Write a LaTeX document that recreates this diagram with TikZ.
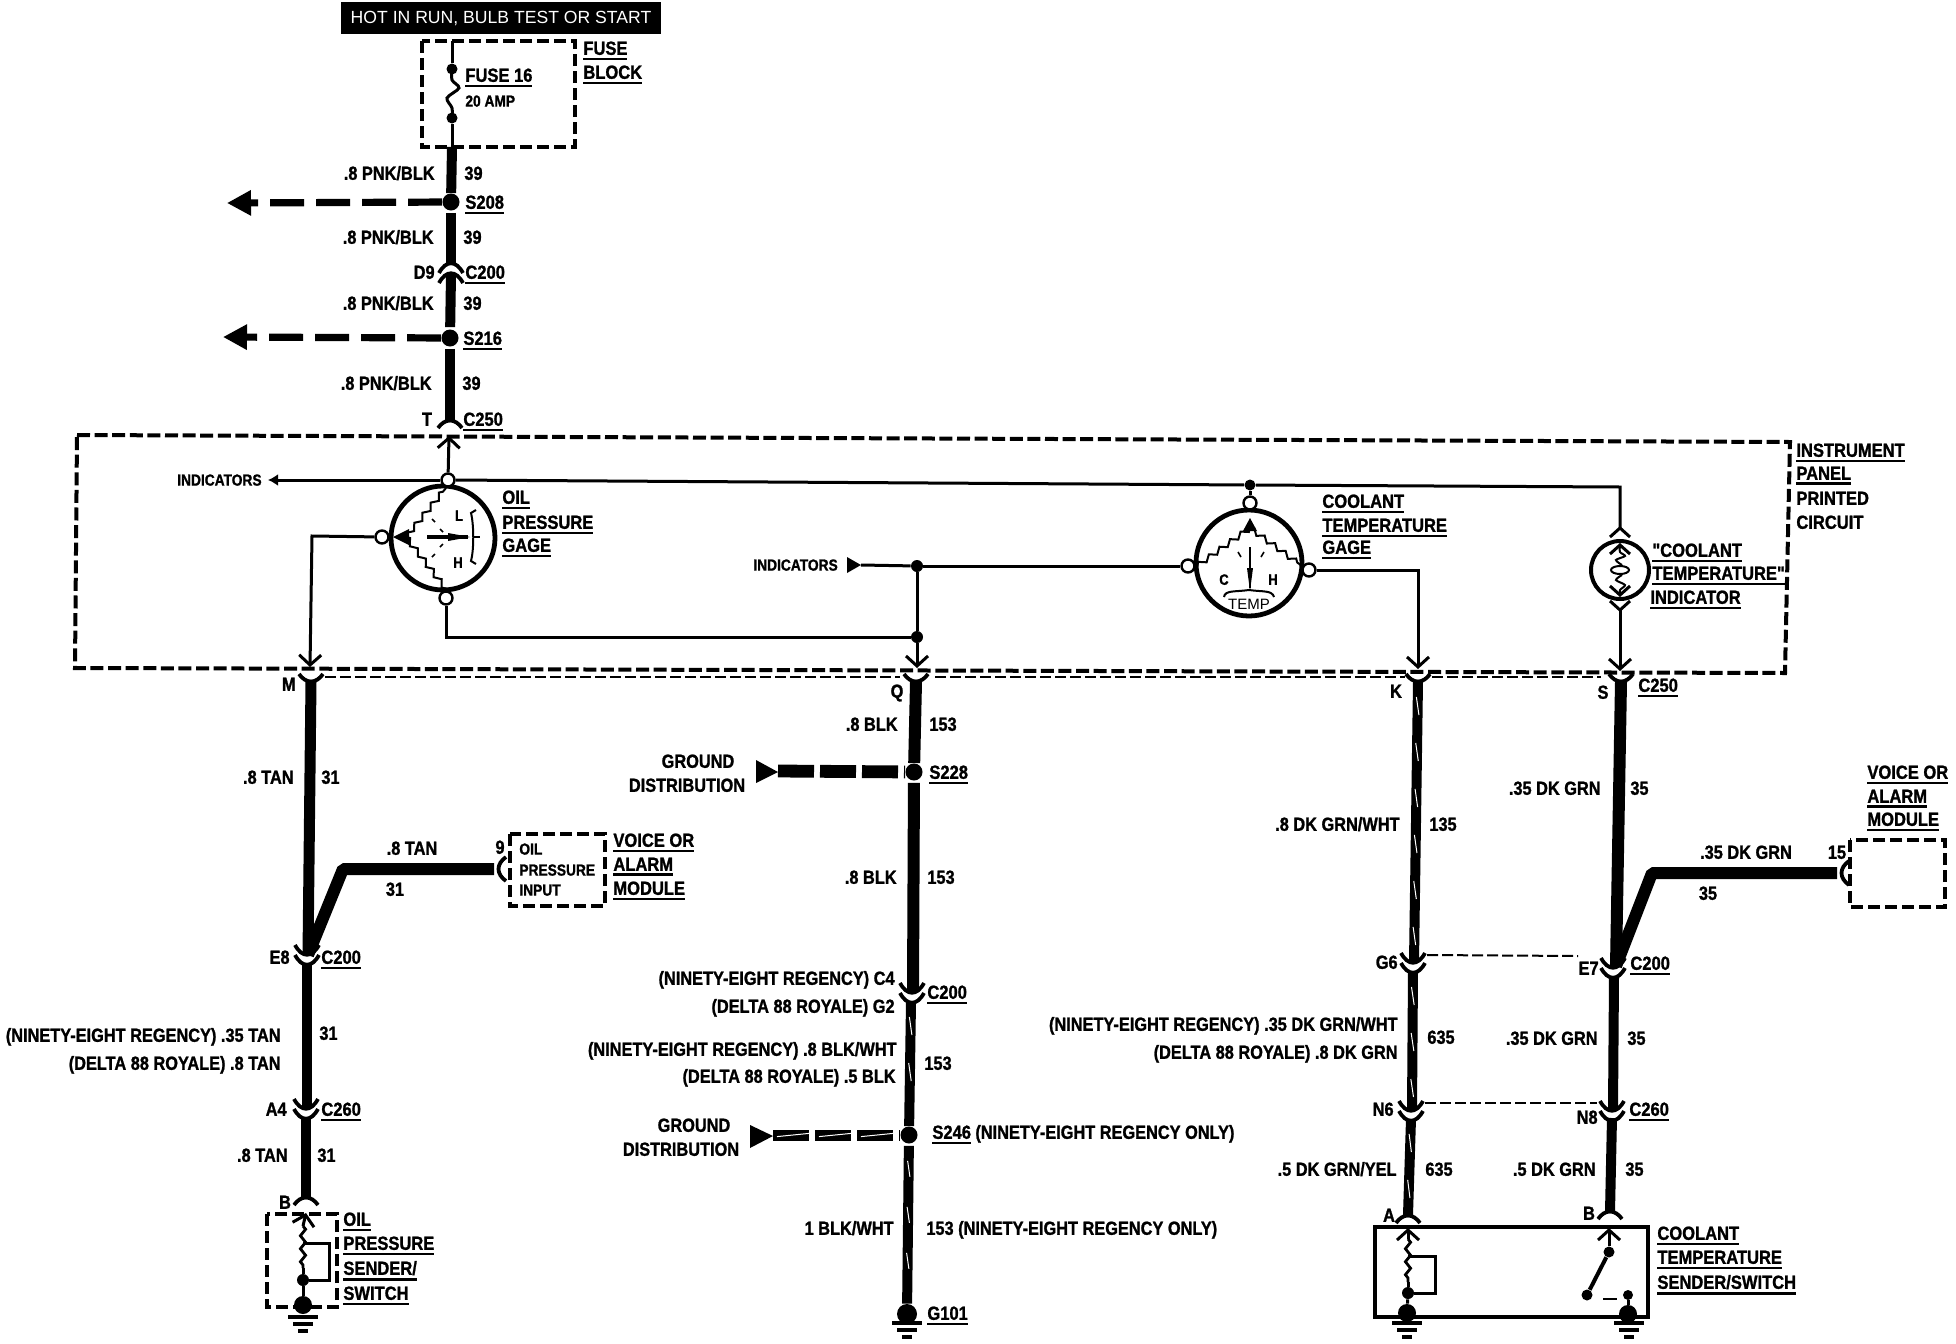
\documentclass[tikz,border=0pt]{standalone}
\usepackage{fontspec}
\setmainfont{Liberation Sans}
\newfontfamily\wirefont[FakeStretch=0.86,FakeBold=1.2]{Liberation Sans Bold}
\newfontfamily\partfont[FakeStretch=0.87,FakeBold=1.2]{Liberation Sans Bold}
\usetikzlibrary{arrows.meta,decorations.pathmorphing,decorations.markings}
\newcommand{\ulab}[1]{\vtop{\hbox{#1}\kern1.3pt\hrule height 1.4pt}}
\tikzset{
	txt/.style={inner sep=0pt,font=\wirefont\fontsize{9.5}{11}\selectfont},
	lr/.style={txt,anchor=base east,yshift=-3.4pt},
	ll/.style={txt,anchor=base west,yshift=-3.4pt},
	lc/.style={txt,anchor=base,yshift=-3.4pt},
	part/.style={ll,font=\partfont\fontsize{9.5}{11}\selectfont},
	tiny/.style={ll,font=\wirefont\fontsize{8}{10}\selectfont,yshift=0.6pt},
	wire/.style={line width=5pt},
	wirew/.style={line width=6pt},
	trace/.style={line width=1.5pt},
	tracer/.style={wire,postaction={decorate,decoration={markings,mark=between positions 12pt and -6pt step 23pt with {\draw[white,line width=0.5pt] (-4.5pt,-0.7pt) -- (4.5pt,0.7pt);}}}},
	dist/.style={line width=3.6pt,dash pattern=on 17pt off 6pt},
	distg/.style={line width=6.4pt,dash pattern=on 18pt off 3pt},
	box/.style={line width=2pt,dash pattern=on 6.5pt off 2.3pt},
	boxs/.style={line width=1.7pt,dash pattern=on 6pt off 2.5pt},
	link/.style={line width=1pt,dash pattern=on 5.5pt off 2pt},
	barb/.style={-{Straight Barb[length=5pt,width=11pt]}},
	splice/.style={circle,fill=black,inner sep=0pt,minimum size=8.5pt},
	tap/.style={circle,fill=black,inner sep=0pt,minimum size=5.5pt},
	term/.style={circle,draw,fill=white,line width=1.2pt,inner sep=0pt,minimum size=6.5pt},
	gage/.style={circle,draw,line width=2.4pt,inner sep=0pt,minimum size=52pt},
	resist/.style={line width=1pt,decorate,decoration={zigzag,segment length=6.5pt,amplitude=1.3pt}},
	pics/connpair/.style={code={
		\draw[line width=1.9pt] (-12,-13) .. controls (-5,0) and (5,0) .. (12,-13);
		\draw[line width=1.9pt] (-12,-3) .. controls (-5,10) and (5,10) .. (12,-3);
	}},
	pics/conncap/.style={code={
		\draw[line width=1.9pt] (-12,-10) .. controls (-5,0) and (5,0) .. (12,-10);
	}},
	pics/legs/.style={code={
		\draw[trace] (-10,-9) -- (0,0) -- (10,-9);
	}},
	pics/gnd/.style={code={
		\draw[line width=1.7pt] (-15,0) -- (15,0);
		\draw[line width=1.7pt] (-10,7) -- (10,7);
		\draw[line width=1.7pt] (-5,14) -- (5,14);
	}},
}
\begin{document}
\begin{tikzpicture}[x=0.5pt,y=-0.5pt]
	\fill[white] (0,0) rectangle (1956,1344);
	\useasboundingbox (0,0) rectangle (1956,1344);
	% supply at the top
	\node[fill=black,text=white,inner sep=0pt,minimum width=160pt,minimum height=16pt,font=\fontsize{8.8}{10}\selectfont] (hot) at (501,18) {HOT IN RUN, BULB TEST OR START};
	\draw[boxs] (422,41) rectangle (575,147);
	\coordinate (fusein) at (452,41);
	\coordinate (fuseout) at (452,147);
	\node[tap] (fa) at (452,69) {};
	\node[tap] (fb) at (452,118) {};
	\draw[trace] (fusein) -- (fa);
	\draw[trace,smooth] plot coordinates {(452,69) (452,80) (459,88) (447,98) (452,108) (452,118)};
	\draw[trace] (fb) -- (fuseout);
	\node[part] (tfuse) at (465,75) {\ulab{FUSE 16}};
	\node[tiny] (tamp) at (465,101) {20 AMP};
	\node[part] (tfb) at (583,48) {\ulab{FUSE}};
	\node[part] (tfc) at (583,72) {\ulab{BLOCK}};
	\node[splice] (s208) at (451,202) {};
	\node[splice] (s216) at (450,338) {};
	\coordinate (a208) at (227,203);
	\coordinate (a216) at (223,337);
	\coordinate (d9t) at (451,265);
	\coordinate (d9b) at (451,275);
	\coordinate (tt) at (450,420);
	\draw[wire] (fuseout) -- (s208);
	\draw[wire,shorten <=1pt] (s208) -- (d9t);
	\draw[wire,shorten >=1pt] (d9b) -- (s216);
	\draw[wire,shorten <=1pt] (s216) -- (tt);
	\draw[dist,-{Triangle[length=12pt,width=12pt]}] (s208) -- (a208);
	\draw[dist,-{Triangle[length=12pt,width=12pt]}] (s216) -- (a216);
	\pic[yscale=-1] at (451,270) {connpair};
	\pic[yscale=-1] at (450,418) {conncap};
	\node[lr] (l1) at (435,173) {.8 PNK/BLK};
	\node[ll] (n1) at (464,173) {39};
	\node[part] (t208) at (465,202) {\ulab{S208}};
	\node[lr] (l2) at (434,237) {.8 PNK/BLK};
	\node[ll] (n2) at (463,237) {39};
	\node[lr] (td9) at (435,272) {D9};
	\node[part] (t200a) at (465,272) {\ulab{C200}};
	\node[lr] (l3) at (434,303) {.8 PNK/BLK};
	\node[ll] (n3) at (463,303) {39};
	\node[part] (t216) at (463,338) {\ulab{S216}};
	\node[lr] (l4) at (432,383) {.8 PNK/BLK};
	\node[ll] (n4) at (462,383) {39};
	\node[lc] (tt1) at (427,419) {T};
	\node[part] (t250a) at (463,419) {\ulab{C250}};
	% instrument panel
	\draw[box] (77,435) -- (1790,442) -- (1785,673) -- (75,668) -- cycle;
	\draw[link] (325,677) -- (900,677);
	\draw[link] (935,677) -- (1405,677);
	\draw[link] (1432,677) -- (1601,677);
	\node[part] (tp1) at (1796,450) {\ulab{INSTRUMENT}};
	\node[part] (tp2) at (1796,473) {\ulab{PANEL}};
	\node[part] (tp3) at (1796,498) {PRINTED};
	\node[part] (tp4) at (1796,522) {CIRCUIT};
	% oil pressure gage
	\node[gage] (oil) at (443,538) {};
	\node[term] (oilt) at (448,480) {};
	\node[term] (oill) at (382,537) {};
	\node[term] (oilb) at (446,598) {};
	\coordinate (tin) at (449,436);
	\coordinate (ind) at (268,480);
	\coordinate (oilc) at (312,536);
	\coordinate (min) at (310,667);
	\coordinate (oilp) at (406,537);
	\coordinate (oild) at (446,637);
	\node[tap,minimum size=6pt] (jb) at (917,637) {};
	\draw[trace,barb] (oilt) -- (tin);
	\draw[trace,-{Latex[length=5pt,width=6pt]}] (oilt) -- (ind);
	\draw[trace,barb] (oill) -- (oilc) -- (min);
	\draw[trace] (oilb) -- (oild) -- (jb);
	\fill (393,537) -- (409,529) -- (409,545) -- cycle;
	\draw[resist] (oilp) -- (446,488);
	\draw[resist] (oilp) -- (446,589);
	\draw[line width=2pt] (427,537) -- (468,537);
	\fill (470,537) -- (448,533) -- (448,541) -- cycle;
	\draw[line width=1pt] (476,510) -- (471,513) .. controls (474,525) and (474,550) .. (471,561) -- (476,564);
	\draw[line width=1pt] (473,537) -- (480,537);
	\draw[line width=0.8pt] (432,519) -- (435,522) (440,529) -- (443,532) (440,547) -- (443,544) (432,557) -- (435,554);
	\node[lc,font=\wirefont\fontsize{7.5}{9}\selectfont] (tl) at (459,514) {L};
	\node[lc,font=\wirefont\fontsize{7.5}{9}\selectfont] (th) at (458,561) {H};
	\node[lr,font=\wirefont\fontsize{8}{10}\selectfont,yshift=0.6pt] (ti1) at (262,480) {INDICATORS};
	\node[part] (to1) at (502,497) {\ulab{OIL}};
	\node[part] (to2) at (502,522) {\ulab{PRESSURE}};
	\node[part] (to3) at (502,545) {\ulab{GAGE}};
	% coolant temperature gage
	\node[gage,minimum size=53pt] (temp) at (1249,563) {};
	\node[term] (tmpt) at (1250,503) {};
	\node[term] (tmpl) at (1188,566) {};
	\node[term] (tmpr) at (1309,570) {};
	\node[tap] (jt) at (1250,485) {};
	\node[tap,minimum size=6pt] (ja) at (917,566) {};
	\coordinate (ind2) at (861,565);
	\coordinate (qin) at (917,668);
	\coordinate (tmpc) at (1418,570);
	\coordinate (kin) at (1418,669);
	\coordinate (idt) at (1620,487);
	\coordinate (idu) at (1620,528);
	\coordinate (ida) at (1620,610);
	\coordinate (sin) at (1620,671);
	\draw[trace] (oilt) -- (jt);
	\draw[trace] (jt) -- (idt) -- (idu);
	\draw[trace] (jt) -- (tmpt);
	\draw[trace] (ind2) -- (ja);
	\draw[trace] (ja) -- (tmpl);
	\draw[trace] (ja) -- (jb);
	\draw[trace,barb] (jb) -- (qin);
	\draw[trace,barb] (tmpr) -- (tmpc) -- (kin);
	\fill (847,557) -- (861,565) -- (847,573) -- cycle;
	\fill (1250,518) -- (1243,531) -- (1257,531) -- cycle;
	\draw[resist] (1250,528) -- (1197,566);
	\draw[resist] (1250,528) -- (1302,566);
	\draw[line width=1pt] (1250,547) -- (1250,588);
	\fill (1250,591) -- (1247,568) -- (1253,568) -- cycle;
	\draw[line width=0.8pt] (1238,552) -- (1241,557) (1264,552) -- (1261,557);
	\draw[line width=1pt] (1224,597) .. controls (1225,590) and (1235,592) .. (1249,590) .. controls (1263,592) and (1272,590) .. (1274,597);
	\node[lc,font=\wirefont\fontsize{7.5}{9}\selectfont] (tc) at (1224,578) {C};
	\node[lc,font=\wirefont\fontsize{7.5}{9}\selectfont] (th2) at (1273,578) {H};
	\node[lc,font=\fontsize{7.5}{9}\selectfont] (ttemp) at (1249,603) {TEMP};
	\node[tiny] (ti2) at (753,565) {INDICATORS};
	\node[part] (tc1) at (1322,501) {\ulab{COOLANT}};
	\node[part] (tc2) at (1322,525) {\ulab{TEMPERATURE}};
	\node[part] (tc3) at (1322,547) {\ulab{GAGE}};
	% coolant temperature indicator
	\node[gage,minimum size=29pt,line width=2pt] (lamp) at (1620,570) {};
	\pic[yscale=-1] at (1620,528) {legs};
	\pic[yscale=-1] at (1620,545) {legs};
	\pic at (1620,595) {legs};
	\pic at (1620,610) {legs};
	\draw[line width=1pt,smooth] plot coordinates {(1620,545) (1620,552) (1625,556) (1616,560) (1622,565)};
	\draw[line width=1pt] (1620,570) ellipse (9 and 4);
	\draw[line width=1pt,smooth] plot coordinates {(1622,575) (1616,580) (1625,585) (1620,590) (1620,595)};
	\draw[trace,barb] (ida) -- (sin);
	\node[part] (tn1) at (1652,550) {\ulab{"COOLANT}};
	\node[part] (tn2) at (1652,573) {\ulab{TEMPERATURE"}};
	\node[part] (tn3) at (1650,597) {\ulab{INDICATOR}};
	% oil wire
	\coordinate (m1) at (311,682);
	\coordinate (e8t) at (308,955);
	\coordinate (e8b) at (307,963);
	\coordinate (a4t) at (307,1108);
	\coordinate (a4b) at (306,1117);
	\coordinate (b1) at (306,1197);
	\coordinate (kink1) at (343,869);
	\coordinate (to9) at (494,869);
	\pic at (311,684) {conncap};
	\draw[wire,line width=5.5pt] (m1) -- (e8t);
	\draw[wire] (e8b) -- (a4t);
	\draw[wire] (a4b) -- (b1);
	\draw[wire,line width=6pt,line join=bevel] (e8t) -- (kink1) -- (to9);
	\pic at (307,958) {connpair};
	\pic at (306,1112) {connpair};
	\pic[yscale=-1] at (306,1195) {conncap};
	\pic[rotate=-90] at (496,869) {conncap};
	\draw[boxs] (510,834) rectangle (605,906);
	\node[lr] (tm) at (296,684) {M};
	\node[lr] (l5) at (294,777) {.8 TAN};
	\node[ll] (n5) at (321,777) {31};
	\node[lc] (l6) at (412,848) {.8 TAN};
	\node[lc] (n6) at (395,889) {31};
	\node[lc] (t9) at (500,847) {9};
	\node[tiny] (tv1) at (519,849) {OIL};
	\node[tiny] (tv2) at (519,870) {PRESSURE};
	\node[tiny] (tv3) at (519,890) {INPUT};
	\node[part] (tv4) at (613,840) {\ulab{VOICE OR}};
	\node[part] (tv5) at (613,864) {\ulab{ALARM}};
	\node[part] (tv6) at (613,888) {\ulab{MODULE}};
	\node[lr] (te8) at (290,957) {E8};
	\node[part] (t200b) at (321,957) {\ulab{C200}};
	\node[lr] (l7) at (281,1035) {(NINETY-EIGHT REGENCY) .35 TAN};
	\node[lr] (l8) at (281,1063) {(DELTA 88 ROYALE) .8 TAN};
	\node[ll] (n7) at (319,1033) {31};
	\node[lr] (ta4) at (287,1109) {A4};
	\node[part] (t260a) at (321,1109) {\ulab{C260}};
	\node[lr] (l9) at (288,1155) {.8 TAN};
	\node[ll] (n9) at (317,1155) {31};
	\node[lc] (tb1) at (285,1202) {B};
	% oil pressure sender
	\draw[boxs] (267,1214) rectangle (337,1307);
	\node[tap,minimum size=6pt] (od) at (303,1280) {};
	\node[splice,minimum size=9pt] (og) at (303,1305) {};
	\coordinate (osa) at (303,1226);
	\coordinate (ostop) at (306,1213);
	\coordinate (osr) at (303,1243);
	\coordinate (osc) at (329,1243);
	\coordinate (ose) at (329,1280);
	\draw[trace,barb] (osa) -- (ostop);
	\draw[resist,line width=1.4pt] (osa) -- (303,1268);
	\draw[trace] (303,1268) -- (od);
	\draw[trace] (osr) -- (osc) -- (ose) -- (od);
	\draw[trace] (od) -- (og);
	\pic at (303,1317) {gnd};
	\node[part] (ts1) at (343,1219) {\ulab{OIL}};
	\node[part] (ts2) at (343,1243) {\ulab{PRESSURE}};
	\node[part] (ts3) at (343,1268) {\ulab{SENDER/}};
	\node[part] (ts4) at (343,1293) {\ulab{SWITCH}};
	% ground wire
	\coordinate (q1) at (916,682);
	\coordinate (c4t) at (913,992);
	\coordinate (c4b) at (911,1002);
	\node[splice] (s228) at (914,772) {};
	\node[splice] (s246) at (909,1135) {};
	\node[splice,minimum size=10pt] (g101) at (907,1314) {};
	\coordinate (g228) at (778,771);
	\coordinate (g246) at (773,1135);
	\pic at (916,684) {conncap};
	\draw[wirew] (q1) -- (s228);
	\draw[wirew,shorten <=1pt] (s228) -- (c4t);
	\draw[tracer] (c4b) -- (s246);
	\draw[tracer,shorten <=1pt] (s246) -- (g101);
	\pic at (912,996) {connpair};
	\draw[distg] (g228) -- (s228);
	\fill (756,760) -- (778,772) -- (756,783) -- cycle;
	\draw[distg,line width=5.5pt,postaction={decorate,decoration={markings,mark=between positions 10pt and -4pt step 21pt with {\draw[white,line width=0.5pt] (-8pt,-0.8pt) -- (8pt,0.8pt);}}}] (g246) -- (s246);
	\fill (750,1125) -- (773,1136) -- (750,1148) -- cycle;
	\pic at (907,1323) {gnd};
	\node[lc] (tq) at (897,691) {Q};
	\node[lr] (l10) at (898,724) {.8 BLK};
	\node[ll] (n10) at (929,724) {153};
	\node[lc] (tg1) at (698,761) {GROUND};
	\node[lc] (tg2) at (687,785) {DISTRIBUTION};
	\node[part] (t228) at (929,772) {\ulab{S228}};
	\node[lr] (l11) at (897,877) {.8 BLK};
	\node[ll] (n11) at (927,877) {153};
	\node[lr] (l12) at (895,978) {(NINETY-EIGHT REGENCY) C4};
	\node[lr] (l13) at (895,1006) {(DELTA 88 ROYALE) G2};
	\node[part] (t200c) at (927,992) {\ulab{C200}};
	\node[lr] (l14) at (897,1049) {(NINETY-EIGHT REGENCY) .8 BLK/WHT};
	\node[lr] (l15) at (896,1076) {(DELTA 88 ROYALE) .5 BLK};
	\node[ll] (n14) at (924,1063) {153};
	\node[lc] (tg3) at (694,1125) {GROUND};
	\node[lc] (tg4) at (681,1149) {DISTRIBUTION};
	\node[part] (t246) at (932,1132) {\ulab{S246}};
	\node[ll] (t246b) at (975,1132) {(NINETY-EIGHT REGENCY ONLY)};
	\node[lr] (l16) at (894,1228) {1 BLK/WHT};
	\node[ll] (n16) at (926,1228) {153 (NINETY-EIGHT REGENCY ONLY)};
	\node[part] (t101) at (927,1313) {\ulab{G101}};
	% coolant wires
	\coordinate (k1) at (1418,682);
	\coordinate (g6t) at (1414,962);
	\coordinate (g6b) at (1413,972);
	\coordinate (n6t) at (1412,1110);
	\coordinate (n6b) at (1411,1119);
	\coordinate (a1) at (1408,1215);
	\coordinate (s1) at (1621,682);
	\coordinate (e7t) at (1616,966);
	\coordinate (e7b) at (1614,977);
	\coordinate (n8t) at (1613,1110);
	\coordinate (n8b) at (1612,1118);
	\coordinate (b2) at (1610,1212);
	\coordinate (kink2) at (1652,873);
	\coordinate (to15) at (1837,873);
	\pic at (1418,684) {conncap};
	\pic at (1621,684) {conncap};
	\draw[tracer] (k1) -- (g6t);
	\draw[tracer] (g6b) -- (n6t);
	\draw[tracer] (n6b) -- (a1);
	\draw[wirew] (s1) -- (e7t);
	\draw[wire] (e7b) -- (n8t);
	\draw[wire] (n8b) -- (b2);
	\draw[wirew,line join=bevel] (e7t) -- (kink2) -- (to15);
	\pic at (1413,966) {connpair};
	\pic at (1411,1114) {connpair};
	\pic at (1613,971) {connpair};
	\pic at (1612,1114) {connpair};
	\pic[yscale=-1] at (1408,1213) {conncap};
	\pic[yscale=-1] at (1610,1209) {conncap};
	\pic[rotate=-90] at (1839,873) {conncap};
	\draw[link] (1427,955) -- (1578,956);
	\draw[link] (1425,1103) -- (1597,1103);
	\draw[boxs] (1850,840) rectangle (1945,907);
	\node[lc] (tk) at (1396,691) {K};
	\node[lr] (l17) at (1400,824) {.8 DK GRN/WHT};
	\node[ll] (n17) at (1429,824) {135};
	\node[lr] (tg6) at (1398,962) {G6};
	\node[lr] (l18) at (1398,1024) {(NINETY-EIGHT REGENCY) .35 DK GRN/WHT};
	\node[lr] (l19) at (1398,1052) {(DELTA 88 ROYALE) .8 DK GRN};
	\node[ll] (n18) at (1427,1037) {635};
	\node[lr] (tn6) at (1394,1109) {N6};
	\node[lr] (l20) at (1397,1169) {.5 DK GRN/YEL};
	\node[ll] (n20) at (1425,1169) {635};
	\node[lc] (ta) at (1389,1215) {A};
	\node[lc] (ts) at (1603,692) {S};
	\node[part] (t250b) at (1638,685) {\ulab{C250}};
	\node[lr] (l21) at (1601,788) {.35 DK GRN};
	\node[ll] (n21) at (1630,788) {35};
	\node[lc] (l22) at (1746,852) {.35 DK GRN};
	\node[lc] (n22) at (1708,893) {35};
	\node[lc] (t15) at (1837,852) {15};
	\node[part] (tv7) at (1867,772) {\ulab{VOICE OR}};
	\node[part] (tv8) at (1867,796) {\ulab{ALARM}};
	\node[part] (tv9) at (1867,819) {\ulab{MODULE}};
	\node[lr] (te7) at (1599,968) {E7};
	\node[part] (t200d) at (1630,963) {\ulab{C200}};
	\node[lr] (l23) at (1598,1038) {.35 DK GRN};
	\node[ll] (n23) at (1627,1038) {35};
	\node[lr] (tn8) at (1598,1117) {N8};
	\node[part] (t260b) at (1629,1109) {\ulab{C260}};
	\node[lr] (l24) at (1596,1169) {.5 DK GRN};
	\node[ll] (n24) at (1625,1169) {35};
	\node[lc] (tb2) at (1589,1213) {B};
	% coolant temperature sender
	\draw[line width=1.6pt] (1375,1227) rectangle (1648,1317);
	\node[tap,minimum size=6pt] (cd) at (1408,1293) {};
	\node[splice,minimum size=9pt] (cg) at (1407,1313) {};
	\node[tap] (swa) at (1609,1252) {};
	\node[tap] (swb) at (1587,1295) {};
	\node[tap,minimum size=5pt] (swc) at (1628,1295) {};
	\node[splice,minimum size=9pt] (sg) at (1628,1314) {};
	\coordinate (csa) at (1408,1239);
	\coordinate (cstop) at (1408,1228);
	\coordinate (csr) at (1408,1256);
	\coordinate (csc) at (1435,1256);
	\coordinate (cse) at (1435,1293);
	\coordinate (swt) at (1609,1228);
	\draw[trace,barb] (csa) -- (cstop);
	\draw[resist,line width=1.4pt] (csa) -- (1408,1282);
	\draw[trace] (1408,1282) -- (cd);
	\draw[trace] (csr) -- (csc) -- (cse) -- (cd);
	\draw[trace] (cd) -- (cg);
	\draw[trace,barb] (swa) -- (swt);
	\draw[line width=2pt] (swa) -- (swb);
	\draw[line width=1.2pt] (1603,1299) -- (1617,1299);
	\draw[trace] (swc) -- (sg);
	\pic at (1407,1323) {gnd};
	\pic at (1629,1323) {gnd};
	\node[part] (tt1a) at (1657,1233) {\ulab{COOLANT}};
	\node[part] (tt2a) at (1657,1257) {\ulab{TEMPERATURE}};
	\node[part] (tt3a) at (1657,1282) {\ulab{SENDER/SWITCH}};
\end{tikzpicture}
\end{document}
